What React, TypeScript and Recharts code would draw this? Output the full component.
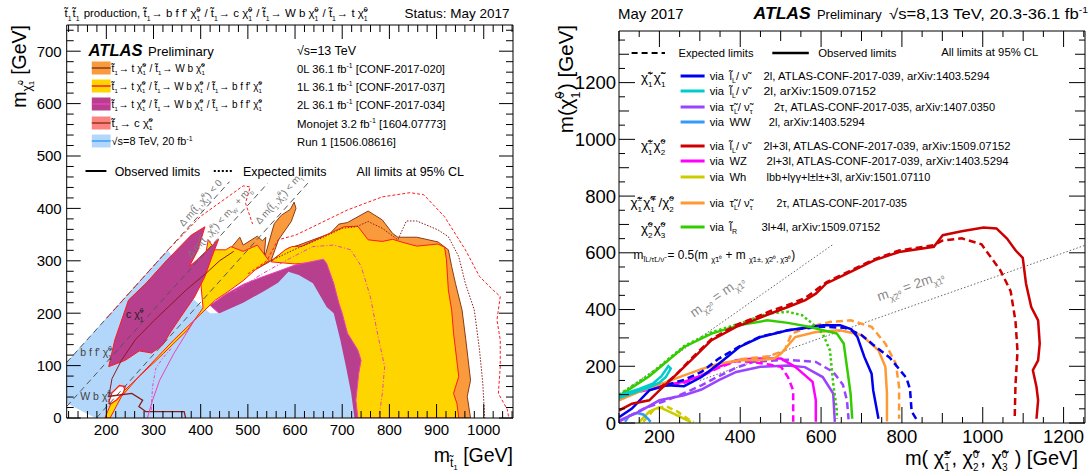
import React from 'react';
import { ComposedChart, Scatter, XAxis, YAxis } from 'recharts';

type Pt = [number, number];
const FONT = '"Liberation Sans", Arial, Helvetica, sans-serif';
const CHI = 'χ\u0303';
const TT = 't\u0303';
const LL = 'l\u0303';
const NU = 'ν\u0303';
const TAU = 'τ\u0303';

const range = (a: number, b: number, s: number) => {
  const r: number[] = [];
  for (let v = a; v <= b + 1e-9; v += s) r.push(Math.round(v * 1000) / 1000);
  return r;
};

// ================= LEFT PANEL (stop summary) =================
const stopXDomain: [number, number] = [116, 1062];
const stopYDomain: [number, number] = [0, 750];
const stopXLabels = [200, 300, 400, 500, 600, 700, 800, 900, 1000];
const stopYLabels = [0, 100, 200, 300, 400, 500, 600, 700];
const stopXTicks = range(120, 1060, 20);
const stopYTicks = range(0, 740, 20);

const stopOrangeBig: Pt[] = [[549,300],[586,324],[608,330],[674,352],[693,370],[711,373],[755,395],[785,378],[807,352],[818,345],[858,345],[903,336],[925,321],[932,289],[940,257],[954,206],[962,149],[972,72],[965,41],[972,0],[700,0],[660,300],[600,296],[575,300]];
const stopOrangeSpike: Pt[] = [[440,298],[483,345],[490,330],[520,347],[531,338],[538,345],[534,302],[556,371],[571,387],[590,398],[598,412],[602,400],[592,375],[565,340],[549,300],[520,285],[480,280]];
const stopYellowMain: Pt[] = [[549,298],[579,321],[593,327],[615,328],[682,356],[704,365],[733,366],[755,340],[785,337],[807,341],[829,335],[858,328],[903,332],[917,326],[921,302],[925,244],[932,206],[936,162],[947,79],[936,47],[943,28],[947,0],[700,0],[660,298],[600,294]];
const stopPurpleHump: Pt[] = [[420,215],[453,236],[490,255],[527,268],[564,280],[600,292],[660,303],[667,295],[682,257],[693,219],[700,200],[711,162],[733,130],[740,110],[735,85],[729,34],[733,0],[650,0],[500,150]];
const stopBlueRun1: Pt[] = [[177,0],[116,28],[116,107],[330,321],[345,300],[380,230],[420,200],[440,200],[490,220],[534,242],[564,258],[586,279],[608,273],[638,257],[667,212],[682,200],[696,149],[708,98],[719,47],[726,0]];
const stopYellowDiag: Pt[] = [[197,0],[210,28],[254,66],[321,123],[372,168],[405,210],[400,260],[416,340],[431,321],[453,321],[464,327],[490,318],[520,330],[545,300],[516,283],[490,262],[453,238],[431,225],[387,187],[343,149],[269,79],[232,41],[208,0]];
const stopPurpleWedge: Pt[] = [[205,98],[218,149],[247,225],[284,257],[328,301],[380,349],[409,365],[394,320],[376,289],[390,300],[438,341],[424,308],[409,270],[387,231],[358,193],[337,165],[320,140],[296,124],[270,128],[240,110]];
const stopRedLoop: Pt[] = [[205,30],[212,48],[228,62],[240,60],[236,48],[222,35],[208,26]];
const stopBrownLow: Pt[] = [[203,41],[254,47],[277,34],[269,22],[284,12],[365,12],[368,0]];
const stopBrownDiag: Pt[] = [[205,40],[212,75],[232,110],[262,150],[300,185],[335,215],[370,245],[410,275],[440,300],[470,318]];
const stopPinkObs: Pt[] = [[287,0],[298,34],[313,72],[343,123],[365,155],[387,187]];
const stopPinkExpLow: Pt[] = [[295,15],[298,60],[305,95],[320,115],[340,135]];
const stopRedExp: Pt[] = [[500,275],[540,300],[564,340],[601,349],[638,365],[711,397],[785,422],[844,430],[873,426],[917,384],[961,321],[991,270],[1020,244],[1035,232],[1028,187],[1035,149],[1035,98],[1031,47],[1050,16],[1053,0]];
const stopRedExpDiag: Pt[] = [[200,190],[260,250],[330,320],[400,385],[470,430],[490,443],[505,441],[495,410],[510,370]];
const stopBrownExp: Pt[] = [[560,305],[600,322],[660,345],[700,362],[730,365],[755,375],[785,362],[800,352],[818,340],[836,376],[858,376],[903,359],[925,346],[947,308],[961,257],[980,206],[991,130],[998,66],[1002,0]];
const stopPinkExp: Pt[] = [[470,240],[530,275],[590,305],[637,327],[682,330],[718,321],[740,290],[760,230],[775,160],[790,98],[785,47],[778,0]];
const stopKinDm0: Pt[] = [[116,106],[461,451]];
const stopKinDmW: Pt[] = [[116,22],[542,448]];
const stopKinDmT: Pt[] = [[179,0],[630,451]];

// ================= RIGHT PANEL (electroweakino summary) =================
const ewXDomain: [number, number] = [100, 1253];
const ewYDomain: [number, number] = [0, 1382];
const ewXLabels = [200, 400, 600, 800, 1000, 1200];
const ewYLabels = [0, 200, 400, 600, 800, 1000, 1200];
const ewXTicks = range(100, 1250, 50);
const ewYTicks = range(0, 1350, 50);

const ewRedObs: Pt[] = [[100,44],[132,68],[175,80],[200,115],[235,162],[278,221],[329,292],[390,339],[433,362],[475,386],[518,409],[561,433],[587,456],[613,492],[664,527],[733,574],[793,603],[879,621],[888,638],[901,662],[948,676],[1002,689],[1034,686],[1060,650],[1081,609],[1099,582],[1107,492],[1120,409],[1137,362],[1141,280],[1137,221],[1124,186],[1133,127],[1137,80],[1133,15]];
const ewRedExp: Pt[] = [[200,122],[240,168],[278,226],[329,296],[390,346],[433,369],[475,395],[518,416],[561,441],[613,496],[664,531],[733,578],[793,608],[879,627],[900,643],[948,651],[997,630],[1044,537],[1069,465],[1081,359],[1086,253],[1081,135],[1079,13]];
const ewGreenObs: Pt[] = [[100,95],[175,165],[261,268],[329,315],[398,345],[467,362],[518,353],[570,339],[639,315],[656,280],[664,198],[673,104],[677,15]];
const ewGreenExp: Pt[] = [[100,100],[175,170],[261,271],[329,320],[398,350],[467,386],[518,392],[553,380],[579,350],[604,315],[622,256],[630,139],[639,45],[639,15]];
const ewBlueObs: Pt[] = [[100,20],[132,51],[175,115],[218,133],[261,130],[304,162],[347,209],[398,268],[450,303],[518,327],[604,345],[647,345],[675,330],[690,303],[707,233],[725,174],[729,115],[742,15]];
const ewBlueExp: Pt[] = [[218,135],[261,152],[304,180],[347,227],[398,270],[450,305],[518,327],[604,340],[662,335],[700,310],[728,277],[770,230],[811,159],[820,120],[824,41],[836,13]];
const ewOrangeObs: Pt[] = [[100,80],[158,115],[218,145],[261,168],[304,190],[347,209],[398,221],[450,222],[484,227],[501,245],[536,303],[587,321],[647,327],[700,310],[742,256],[759,198],[763,104],[763,5]];
const ewOrangeExp: Pt[] = [[400,225],[470,235],[510,256],[527,315],[570,339],[622,356],[673,362],[725,339],[759,280],[785,209],[793,127],[793,15]];
const ewMagentaObs: Pt[] = [[100,95],[115,104],[160,115],[209,133],[261,145],[304,168],[347,198],[390,221],[433,227],[501,227],[536,198],[579,145],[587,80],[587,4]];
const ewMagentaExp: Pt[] = [[100,90],[150,110],[209,130],[261,142],[304,165],[347,195],[390,218],[433,215],[475,205],[501,198],[518,162],[531,115],[531,4]];
const ewPurpleObs: Pt[] = [[100,8],[150,40],[200,80],[261,98],[304,118],[347,151],[390,180],[450,198],[518,203],[560,197],[604,162],[630,104],[634,4]];
const ewPurpleExp: Pt[] = [[100,5],[160,50],[218,80],[261,105],[304,133],[347,165],[390,195],[433,216],[518,223],[587,215],[630,180],[654,135],[664,80],[668,13]];
const ewCyanObs: Pt[] = [[100,98],[150,120],[185,140],[205,165],[222,200],[228,192],[216,162],[200,142],[175,126],[140,108],[100,88]];
const ewLightBlueObs: Pt[] = [[115,4],[125,25],[145,35],[160,30],[172,15],[178,4]];
const ewOliveObs: Pt[] = [[150,4],[175,40],[200,56],[235,33],[261,15],[278,4]];
const ewOliveExp: Pt[] = [[160,4],[185,45],[215,60],[245,40],[270,15],[285,4]];
const ewDiagEqual: Pt[] = [[100,100],[630,630]];
const ewDiagTwice: Pt[] = [[300,150],[1253,626.5]];

const C = {
  orange: '#f99a3c', brown: '#8b3a1a', yellow: '#ffd500', red: '#ff1a1a', purple: '#b73f8e',
  pink: '#ee3fbf', blue: '#b3d7fa', blueLine: '#3b9cff', salmon: '#ff8282', darkred: '#8b1a1a',
  ewBlue: '#0000ee', ewCyan: '#00cccc', ewPurple: '#9944ff', ewLightBlue: '#3399ff', ewRed: '#cc0000',
  ewMagenta: '#ff00ff', ewOlive: '#cccc00', ewOrange: '#ff9933', ewGreen: '#33cc00',
};

const emptyShape = () => <g />;
const toPts = (a: Pt[], close = false) => {
  const r = a.map(([x, y]) => ({ x, y }));
  if (close) r.push({ x: a[0][0], y: a[0][1] });
  return r;
};
const poly = (key: string, a: Pt[], fill: string, stroke = 'none', sw = 1) => (
  <Scatter key={key} data={toPts(a, true)} line={{ fill, stroke, strokeWidth: sw }} lineType="joint" shape={emptyShape} isAnimationActive={false} />
);
const curve = (key: string, a: Pt[], stroke: string, sw: number, dash?: string) => (
  <Scatter key={key} data={toPts(a)} line={{ fill: 'none', stroke, strokeWidth: sw, strokeDasharray: dash }} lineType="joint" shape={emptyShape} isAnimationActive={false} />
);

type TickOpts = { len: (v: number) => number; labels?: number[]; fs?: number; off?: number };
const makeTick = (side: 'b' | 't' | 'l' | 'r', o: TickOpts) => (p: any) => {
  const { x, y, payload } = p;
  const v = Number(payload.value);
  const len = o.len(v);
  let l = { x1: x, x2: x, y1: y, y2: y - len };
  if (side === 't') l = { x1: x, x2: x, y1: y, y2: y + len };
  if (side === 'l') l = { x1: x, x2: x + len, y1: y, y2: y };
  if (side === 'r') l = { x1: x, x2: x - len, y1: y, y2: y };
  const lbl = o.labels && o.labels.includes(v);
  const fs = o.fs || 14;
  return (
    <g>
      <line {...l} stroke="#000" strokeWidth={1} />
      {lbl && side === 'b' && (
        <text x={x} y={y + (o.off || 16)} textAnchor="middle" fontSize={fs} fontFamily={FONT} fill="#000">{v}</text>
      )}
      {lbl && side === 'l' && (
        <text x={x - (o.off || 4)} y={y + fs * 0.36} textAnchor="end" fontSize={fs} fontFamily={FONT} fill="#000">{v}</text>
      )}
    </g>
  );
};

function SS({ b, sub, sup, fs, up = 0.46, down = 0.34, sc = 0.6 }: { b: string; sub?: string; sup?: string; fs: number; up?: number; down?: number; sc?: number }) {
  const s = fs * sc;
  const subDy = fs * down;
  const supDy = -fs * up;
  const out: any[] = [<tspan key="b">{b}</tspan>];
  let cur = 0;
  if (sub) { out.push(<tspan key="s" fontSize={s} dy={subDy}>{sub}</tspan>); cur = subDy; }
  if (sup) {
    const dx = sub ? -s * 0.56 * sub.length : 0;
    out.push(<tspan key="p" fontSize={s} dx={dx} dy={supDy - cur}>{sup}</tspan>);
    cur = supDy;
  }
  out.push(<tspan key="r" fontSize={fs} dy={-cur}>{'\u200a'}</tspan>);
  return <>{out}</>;
}
const c10 = (fs: number, sub = '1', sup = '0') => <SS b={CHI} sub={sub} sup={sup} fs={fs} />;
const t1 = (fs: number) => <SS b={TT} sub="1" fs={fs} />;

function AxesChart(props: { w: number; h: number; m: any; xd: [number, number]; yd: [number, number]; xt: number[]; yt: number[]; xb: any; xtop: any; yl: any; yr: any }) {
  const { w, h, m, xd, yd, xt, yt } = props;
  return (
    <ComposedChart width={w} height={h} margin={m}>
      <XAxis xAxisId="b" type="number" dataKey="x" domain={xd} allowDataOverflow orientation="bottom" height={1} ticks={xt} interval={0} tickSize={0} tickMargin={0} tickLine={false} axisLine={{ stroke: '#000' }} tick={props.xb} />
      <XAxis xAxisId="t" type="number" dataKey="x" domain={xd} allowDataOverflow orientation="top" height={1} ticks={xt} interval={0} tickSize={0} tickMargin={0} tickLine={false} axisLine={{ stroke: '#000' }} tick={props.xtop} />
      <YAxis yAxisId="l" type="number" dataKey="y" domain={yd} allowDataOverflow orientation="left" width={1} ticks={yt} interval={0} tickSize={0} tickMargin={0} tickLine={false} axisLine={{ stroke: '#000' }} tick={props.yl} />
      <YAxis yAxisId="r" type="number" dataKey="y" domain={yd} allowDataOverflow orientation="right" width={1} ticks={yt} interval={0} tickSize={0} tickMargin={0} tickLine={false} axisLine={{ stroke: '#000' }} tick={props.yr} />
      <Scatter xAxisId="b" yAxisId="l" data={[{ x: xd[0], y: yd[0] }]} shape={emptyShape} isAnimationActive={false} />
      <Scatter xAxisId="t" yAxisId="r" data={[{ x: xd[1], y: yd[1] }]} shape={emptyShape} isAnimationActive={false} />
    </ComposedChart>
  );
}

const abs = (l: number): React.CSSProperties => ({ position: 'absolute', left: l, top: 0 });

export default function App() {
  const lenStop = (v: number) => (v % 100 === 0 ? 14 : 7);
  const lenEw = (v: number) => (v % 200 === 0 ? 16 : v % 100 === 0 ? 10 : 6);
  const fsL = 10.2;
  const fsR = 11.2;
  const fsCol = 11.4;
  const stopLegend = [
    { y: 68, fill: C.orange, line: C.brown, right: '0L 36.1 ', ref: ' [CONF-2017-020]', w: 148 },
    { y: 86, fill: C.yellow, line: C.red, right: '1L 36.1 ', ref: ' [CONF-2017-037]', w: 148 },
    { y: 104, fill: C.purple, line: C.pink, right: '2L 36.1 ', ref: ' [CONF-2017-034]', w: 148 },
    { y: 123, fill: C.salmon, line: C.brown, right: 'Monojet 3.2 ', ref: '  [1604.07773]', w: 149 },
  ];
  const lnu = <>{LL}<tspan fontSize={7} dy={3}>L</tspan><tspan dy={-3}>/ {NU}</tspan></>;
  const tnu = <>{TAU}<tspan fontSize={7} dy={3}>L</tspan><tspan dy={-3}>/ {NU}</tspan><tspan fontSize={7} dy={3}>τ</tspan><tspan dy={-3}>{'\u200a'}</tspan></>;
  const ewRows = [
    { y: 76, col: C.ewBlue, part: lnu, ax: 763.5, txt: '2l, ATLAS-CONF-2017-039, arXiv:1403.5294', w: 226 },
    { y: 91, col: C.ewCyan, part: lnu, ax: 763.5, txt: '2l, arXiv:1509.07152', w: 112.6 },
    { y: 107, col: C.ewPurple, part: tnu, ax: 774, txt: '2τ, ATLAS-CONF-2017-035, arXiv:1407.0350', w: 221 },
    { y: 122, col: C.ewLightBlue, part: <>WW</>, ax: 768.7, txt: '2l, arXiv:1403.5294', w: 96 },
    { y: 146, col: C.ewRed, part: lnu, ax: 763.5, txt: '2l+3l, ATLAS-CONF-2017-039, arXiv:1509.07152', w: 247 },
    { y: 161, col: C.ewMagenta, part: <>WZ</>, ax: 766.6, txt: '2l+3l, ATLAS-CONF-2017-039, arXiv:1403.5294', w: 242 },
    { y: 177, col: C.ewOlive, part: <>Wh</>, ax: 766.6, txt: 'lbb+lγγ+l±l±+3l, arXiv:1501.07110', w: 163.7 },
    { y: 203, col: C.ewOrange, part: tnu, ax: 776.5, txt: '2τ, ATLAS-CONF-2017-035', w: 130.3 },
    { y: 227, col: C.ewGreen, part: <>{LL}<tspan fontSize={7} dy={3}>R</tspan><tspan dy={-3}>{'\u200a'}</tspan></>, ax: 761.4, txt: '3l+4l, arXiv:1509.07152', w: 118.9 },
  ];

  return (
    <div style={{ position: 'absolute', left: 0, top: 0, width: 1089, height: 475, background: '#fff', fontFamily: FONT }}>
      {/* LEFT data */}
      <div style={abs(0)}>
        <ComposedChart width={530} height={475} margin={{ top: 25, right: 17, bottom: 57, left: 66.7 }}>
          <XAxis type="number" dataKey="x" domain={stopXDomain} allowDataOverflow hide />
          <YAxis type="number" dataKey="y" domain={stopYDomain} allowDataOverflow hide />
          {poly('ob', stopOrangeBig, C.orange, C.brown)}
          {poly('os', stopOrangeSpike, C.orange, C.brown)}
          {poly('ym', stopYellowMain, C.yellow, C.red)}
          {poly('ph', stopPurpleHump, C.purple, C.pink)}
          {poly('bl', stopBlueRun1, C.blue)}
          {poly('yd', stopYellowDiag, C.yellow, C.red)}
          {poly('pw', stopPurpleWedge, C.purple, C.red)}
          {poly('rl', stopRedLoop, '#ffffff', C.red, 1.3)}
          {curve('kin0', stopKinDm0, '#555', 1, '6 4')}
          {curve('kinW', stopKinDmW, '#555', 1, '6 4')}
          {curve('kinT', stopKinDmT, '#555', 1, '6 4')}
          {curve('bdl', stopBrownDiag, C.darkred, 1)}
          {curve('bl2', stopBrownLow, C.darkred, 1.3)}
          {curve('pko', stopPinkObs, C.pink, 1)}
          {curve('pke', stopPinkExpLow, C.pink, 1, '3 2 1 2')}
          {curve('rex', stopRedExp, C.red, 1, '3 2')}
          {curve('red', stopRedExpDiag, C.red, 1, '3 2')}
          {curve('bex', stopBrownExp, C.darkred, 1, '1.5 1.5')}
          {curve('pex', stopPinkExp, C.pink, 1, '4 2 1 2')}
        </ComposedChart>
      </div>
      {/* LEFT axes */}
      <div style={abs(0)}>
        <AxesChart w={530} h={475} m={{ top: 24, right: 16, bottom: 56, left: 65.7 }} xd={stopXDomain} yd={stopYDomain} xt={stopXTicks} yt={stopYTicks}
          xb={makeTick('b', { len: lenStop, labels: stopXLabels, fs: 15, off: 17 })}
          xtop={makeTick('t', { len: lenStop })}
          yl={makeTick('l', { len: lenStop, labels: stopYLabels, fs: 15, off: 5 })}
          yr={makeTick('r', { len: lenStop })} />
      </div>
      {/* RIGHT data */}
      <div style={abs(545)}>
        <ComposedChart width={544} height={475} margin={{ top: 31, right: 4, bottom: 52, left: 74 }}>
          <XAxis type="number" dataKey="x" domain={ewXDomain} allowDataOverflow hide />
          <YAxis type="number" dataKey="y" domain={ewYDomain} allowDataOverflow hide />
          {curve('d1', ewDiagEqual, '#666', 1, '1.5 2')}
          {curve('d2', ewDiagTwice, '#666', 1, '1.5 2')}
          {curve('ol', ewOliveObs, C.ewOlive, 2.5)}
          {curve('oe', ewOliveExp, C.ewOlive, 2.5, '6 4')}
          {curve('lb', ewLightBlueObs, C.ewLightBlue, 2.5)}
          {curve('pu', ewPurpleObs, C.ewPurple, 2.5)}
          {curve('pue', ewPurpleExp, C.ewPurple, 2.5, '7 4')}
          {curve('mg', ewMagentaObs, C.ewMagenta, 2.5)}
          {curve('mge', ewMagentaExp, C.ewMagenta, 2.5, '7 4')}
          {curve('ore', ewOrangeExp, C.ewOrange, 2.5, '7 4')}
          {curve('or', ewOrangeObs, C.ewOrange, 2.5)}
          {curve('bue', ewBlueExp, C.ewBlue, 2.5, '7 4')}
          {curve('bu', ewBlueObs, C.ewBlue, 2.5)}
          {curve('gre', ewGreenExp, C.ewGreen, 2.5, '2.5 2.5')}
          {curve('gr', ewGreenObs, C.ewGreen, 2.5)}
          {curve('cy', ewCyanObs, C.ewCyan, 2.5)}
          {curve('rde', ewRedExp, C.ewRed, 2.5, '7 4')}
          {curve('rd', ewRedObs, C.ewRed, 2.5)}
        </ComposedChart>
      </div>
      {/* RIGHT axes */}
      <div style={abs(545)}>
        <AxesChart w={544} h={475} m={{ top: 30, right: 3, bottom: 51, left: 73 }} xd={ewXDomain} yd={ewYDomain} xt={ewXTicks} yt={ewYTicks}
          xb={makeTick('b', { len: lenEw, labels: ewXLabels, fs: 18.5, off: 20 })}
          xtop={makeTick('t', { len: lenEw })}
          yl={makeTick('l', { len: lenEw, labels: ewYLabels, fs: 18.5, off: 3 })}
          yr={makeTick('r', { len: lenEw })} />
      </div>
      {/* TEXT overlay */}
      <svg width={1089} height={475} style={{ position: 'absolute', left: 0, top: 0, pointerEvents: 'none' }} fontFamily={FONT}>
        {/* left header */}
        <text x={64.6} y={17} fontSize={11.6} textLength={304} lengthAdjust="spacingAndGlyphs">{t1(11.6)}{t1(11.6)} production, {t1(11.6)}→ b f f' {c10(11.6)} / {t1(11.6)}→ c {c10(11.6)} / {t1(11.6)}→ W b {c10(11.6)} / {t1(11.6)}→ t {c10(11.6)}</text>
        <text x={404.6} y={18} fontSize={13.5} textLength={105} lengthAdjust="spacingAndGlyphs">Status: May 2017</text>
        <text x={88.6} y={56} fontSize={16.2} fontWeight="bold" fontStyle="italic" textLength={54} lengthAdjust="spacingAndGlyphs">ATLAS</text>
        <text x={148} y={56} fontSize={13.2} textLength={65.7} lengthAdjust="spacingAndGlyphs">Preliminary</text>
        <text x={297} y={55} fontSize={12.5}>√s=13 TeV</text>
        {stopLegend.map((r, i) => (
          <g key={i}>
            <rect x={91.8} y={r.y - 6.5} width={18.8} height={13} fill={r.fill} />
            <line x1={91.8} x2={110.6} y1={r.y} y2={r.y} stroke={r.line} strokeWidth={1.5} />
            <text x={297} y={r.y + 4.5} fontSize={fsCol} textLength={r.w} lengthAdjust="spacingAndGlyphs">{r.right}fb<tspan fontSize={7} dy={-5}>-1</tspan><tspan dy={5}>{r.ref}</tspan></text>
          </g>
        ))}
        <rect x={91.8} y={134.5} width={18.8} height={13} fill={C.blue} />
        <line x1={91.8} x2={110.6} y1={141} y2={141} stroke={C.blueLine} strokeWidth={1.5} />
        <text x={297} y={145.5} fontSize={fsCol} textLength={99} lengthAdjust="spacingAndGlyphs">Run 1 [1506.08616]</text>
        <text x={111.6} y={72} fontSize={fsL} textLength={94} lengthAdjust="spacingAndGlyphs">{t1(fsL)}→ t {c10(fsL)} / {t1(fsL)}→ W b {c10(fsL)}</text>
        <text x={111.6} y={90} fontSize={fsL} textLength={151} lengthAdjust="spacingAndGlyphs">{t1(fsL)}→ t {c10(fsL)} / {t1(fsL)}→ W b {c10(fsL)} / {t1(fsL)}→ b f f' {c10(fsL)}</text>
        <text x={111.6} y={108} fontSize={fsL} textLength={151} lengthAdjust="spacingAndGlyphs">{t1(fsL)}→ t {c10(fsL)} / {t1(fsL)}→ W b {c10(fsL)} / {t1(fsL)}→ b f f' {c10(fsL)}</text>
        <text x={111.6} y={127} fontSize={fsL} textLength={42} lengthAdjust="spacingAndGlyphs">{t1(fsL)}→ c {c10(fsL)}</text>
        <text x={111.6} y={145} fontSize={fsL} textLength={81} lengthAdjust="spacingAndGlyphs">√s=8 TeV, 20 fb<tspan fontSize={6.5} dy={-4.5}>-1</tspan></text>
        <line x1={85.5} x2={106.4} y1={171} y2={171} stroke="#000" strokeWidth={2} />
        <text x={114.7} y={175.5} fontSize={12.4} textLength={85.5} lengthAdjust="spacingAndGlyphs">Observed limits</text>
        <line x1={213.8} x2={232.5} y1={171} y2={171} stroke="#000" strokeWidth={2} strokeDasharray="2 2" />
        <text x={243} y={175.5} fontSize={12.4} textLength={83.4} lengthAdjust="spacingAndGlyphs">Expected limits</text>
        <text x={356.6} y={175.5} fontSize={12} textLength={107.4} lengthAdjust="spacingAndGlyphs">All limits at 95% CL</text>
        {/* left in-plot labels */}
        <text transform="translate(203,205) rotate(-48)" textAnchor="middle" fontSize={9.8} fill="#777">Δ m({t1(9.8)},{c10(9.8)}) &lt; 0</text>
        <text transform="translate(222,224) rotate(-48)" textAnchor="middle" fontSize={9.8} fill="#777">Δ m({t1(9.8)},{c10(9.8)}) &lt; <SS b="m" sub="W" fs={9.8} /> + <SS b="m" sub="b" fs={9.8} /></text>
        <text transform="translate(281,201) rotate(-48)" textAnchor="middle" fontSize={9.8} fill="#777">Δ m({t1(9.8)},{c10(9.8)}) &lt; <SS b="m" sub="t" fs={9.8} /></text>
        <text x={80.3} y={356} fontSize={10.5} fill="#444">b f f' {c10(10.5)}</text>
        <text x={80.3} y={400} fontSize={10.5} fill="#444">W b {c10(10.5)}</text>
        <text x={126} y={318} fontSize={10.5} fill="#222">c {c10(10.5)}</text>
        {/* left axis titles */}
        <text transform="translate(26,25) rotate(-90)" textAnchor="end" fontSize={19.5}>m<tspan fontSize={12} dy={5}>{CHI}</tspan><tspan fontSize={8} dy={3}>1</tspan><tspan fontSize={8} dx={-4} dy={-11}>0</tspan><tspan fontSize={19.5} dy={3}> [GeV]</tspan></text>
        <text x={513} y={462} textAnchor="end" fontSize={19.5}>m<tspan fontSize={12} dy={5}>{TT}</tspan><tspan fontSize={8} dy={3}>1</tspan><tspan fontSize={19.5} dy={-8}> [GeV]</tspan></text>

        {/* right header */}
        <text x={618} y={19} fontSize={14.5} textLength={65.7} lengthAdjust="spacingAndGlyphs">May 2017</text>
        <text x={753.5} y={19} fontSize={16.5} fontWeight="bold" fontStyle="italic" textLength={57.3} lengthAdjust="spacingAndGlyphs">ATLAS</text>
        <text x={817} y={19} fontSize={13.5} textLength={64.6} lengthAdjust="spacingAndGlyphs">Preliminary</text>
        <text x={889} y={19} fontSize={14.5} textLength={199} lengthAdjust="spacingAndGlyphs">√s=8,13 TeV, 20.3-36.1 fb<tspan fontSize={9} dy={-6}>-1</tspan></text>
        <line x1={631.6} x2={665} y1={53} y2={53} stroke="#000" strokeWidth={2} strokeDasharray="6 4" />
        <text x={678.5} y={57} fontSize={11.2} textLength={75} lengthAdjust="spacingAndGlyphs">Expected limits</text>
        <line x1={772.3} x2={808.8} y1={53} y2={53} stroke="#000" strokeWidth={2.5} />
        <text x={818.2} y={57} fontSize={11.3} textLength={78.2} lengthAdjust="spacingAndGlyphs">Observed limits</text>
        <text x={941.2} y={56} fontSize={10.8} textLength={97} lengthAdjust="spacingAndGlyphs">All limits at 95% CL</text>
        <text x={640.9} y={82} fontSize={13.5}>{c10(13.5, '1', '+')}{c10(13.5, '1', '−')}</text>
        <text x={640.9} y={150} fontSize={13.5}>{c10(13.5, '1', '±')}{c10(13.5, '2', '0')}</text>
        <text x={630.5} y={207} fontSize={13.5}>{c10(13.5, '1', '±')}{c10(13.5, '1', '∓')}/{c10(13.5, '2', '0')}</text>
        <text x={640.9} y={233} fontSize={13.5}>{c10(13.5, '2', '0')}{c10(13.5, '3', '0')}</text>
        {ewRows.map((r, i) => (
          <g key={i}>
            <line x1={680.6} x2={704.6} y1={r.y} y2={r.y} stroke={r.col} strokeWidth={3} />
            <text x={709.7} y={r.y + 4} fontSize={fsR}>via</text>
            <text x={729.5} y={r.y + 4} fontSize={fsR}>{r.part}</text>
            <text x={r.ax} y={r.y + 4} fontSize={fsR} textLength={r.w} lengthAdjust="spacingAndGlyphs">{r.txt}</text>
          </g>
        ))}
        <text x={633.6} y={259} fontSize={12} textLength={161.6} lengthAdjust="spacingAndGlyphs">m<tspan fontSize={7.5} dy={3}>{LL}L/{TAU}L/{NU}</tspan><tspan dy={-3}> = 0.5(m </tspan><tspan fontSize={7.5} dy={3}>{CHI}1⁰</tspan><tspan dy={-3}> + m </tspan><tspan fontSize={7.5} dy={3}>{CHI}1±, {CHI}2⁰, {CHI}3⁰</tspan><tspan dy={-3}>)</tspan></text>
        <text transform="translate(719.5,300) rotate(-35)" textAnchor="middle" fontSize={13.5} fill="#888">m<tspan fontSize={8.5} dy={4}>{CHI}2⁰</tspan><tspan dy={-4}> = m</tspan><tspan fontSize={8.5} dy={4}>{CHI}1⁰</tspan></text>
        <text transform="translate(912,290) rotate(-19)" textAnchor="middle" fontSize={13.5} fill="#888">m<tspan fontSize={8.5} dy={4}>{CHI}2⁰</tspan><tspan dy={-4}> = 2m</tspan><tspan fontSize={8.5} dy={4}>{CHI}1⁰</tspan></text>
        <text transform="translate(573.3,25) rotate(-90)" textAnchor="end" fontSize={20.5}>m({c10(20.5)}) [GeV]</text>
        <text x={1078} y={465} textAnchor="end" fontSize={20}>m( <SS b={CHI} sub="1" sup="±" fs={20} up={0.33} down={0.29} sc={0.5} />, <SS b={CHI} sub="2" sup="0" fs={20} up={0.33} down={0.29} sc={0.5} />, <SS b={CHI} sub="3" sup="0" fs={20} up={0.33} down={0.29} sc={0.5} /> ) [GeV]</text>
      </svg>
    </div>
  );
}
